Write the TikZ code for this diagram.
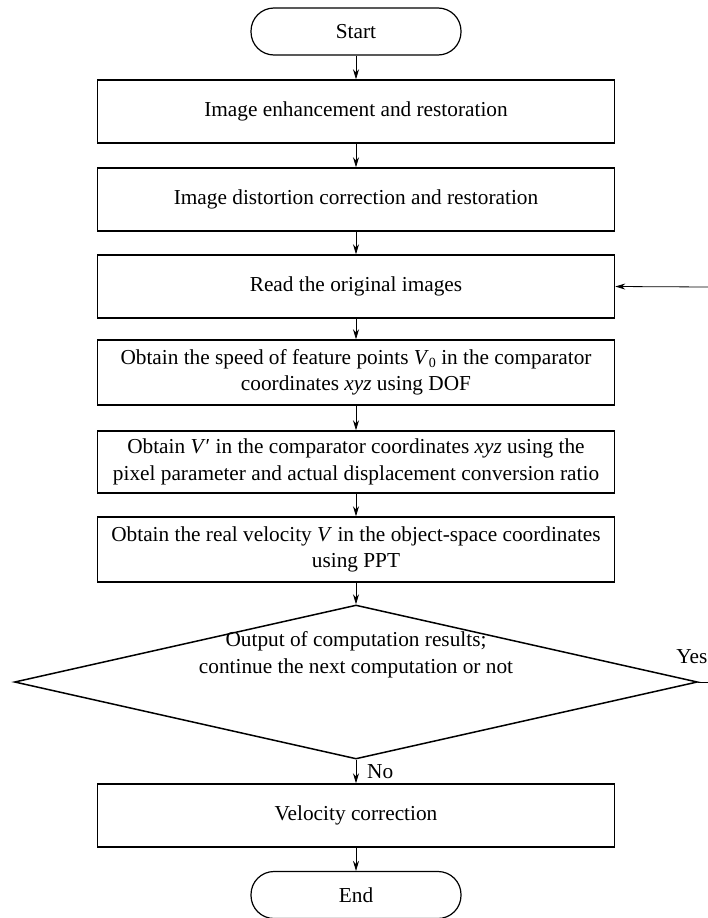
\documentclass[tikz,border=0pt]{standalone}
\usepackage{fontspec}
\setmainfont{Liberation Serif}
\usetikzlibrary{shapes.geometric,arrows.meta}
\begin{document}
\begin{tikzpicture}[x=1pt,y=-1pt,
  every node/.style={font=\fontsize{21.3}{26.5}\selectfont},
  procbox/.style={draw,line width=1.5pt,minimum width=517pt,minimum height=63pt,align=center,inner sep=0pt},
  term/.style={draw,line width=1.2pt,rounded corners=23pt,minimum width=210pt,minimum height=47pt,inner sep=0pt},
  decision/.style={draw,line width=1.5pt,shape=diamond,minimum width=683pt,minimum height=154pt,inner sep=0pt},
  arr/.style={line width=0.8pt,-{Stealth[length=10pt,width=6pt]}},
  plain/.style={line width=0.8pt}]
\useasboundingbox (0,0) rectangle (708,918);
\node[term] (start) at (356,31.5) {Start};
\node[procbox] (b1) at (356,111.5) {Image enhancement and restoration};
\node[procbox] (b2) at (356,199.5) {Image distortion correction and restoration};
\node[procbox] (b3) at (356,286.5) {Read the original images};
\node[procbox,minimum height=65pt] (b4) at (356,372.5) {Obtain the speed of feature points \textit{V}\raisebox{-0.35ex}{\fontsize{14}{14}\selectfont 0} in the comparator\\coordinates \textit{xyz} using DOF};
\node[procbox,minimum height=62pt] (b5) at (356,462) {Obtain \textit{V}′ in the comparator coordinates \textit{xyz} using the\\pixel parameter and actual displacement conversion ratio};
\node[procbox,minimum height=65pt] (b6) at (356,549.5) {Obtain the real velocity \textit{V} in the object-space coordinates\\using PPT};
\node[decision] (d) at (356,682) {};
\node[align=center] (dtext) at (356,655) {Output of computation results;\\continue the next computation or not};
\node[procbox] (b7) at (356,815.5) {Velocity correction};
\node[term] (end) at (356,895) {End};
\node[anchor=east,inner sep=0.5pt] (yes) at (708,657) {Yes};
\node[anchor=west,inner sep=0pt] (no) at (367,772) {No};
\coordinate (yesend) at (708,682);
\coordinate (backin) at (708,287);
\draw[arr] (start) -- (b1);
\draw[arr] (b1) -- (b2);
\draw[arr] (b2) -- (b3);
\draw[arr] (b3) -- (b4);
\draw[arr] (b4) -- (b5);
\draw[arr] (b5) -- (b6);
\draw[arr] (b6.south) -- (d.north);
\draw[arr] (d.south) -- (b7);
\draw[arr] (b7) -- (end);
\draw[plain] (d.east) -- (yesend);
\draw[arr] (backin) -- (b3.east);
\end{tikzpicture}
\end{document}
